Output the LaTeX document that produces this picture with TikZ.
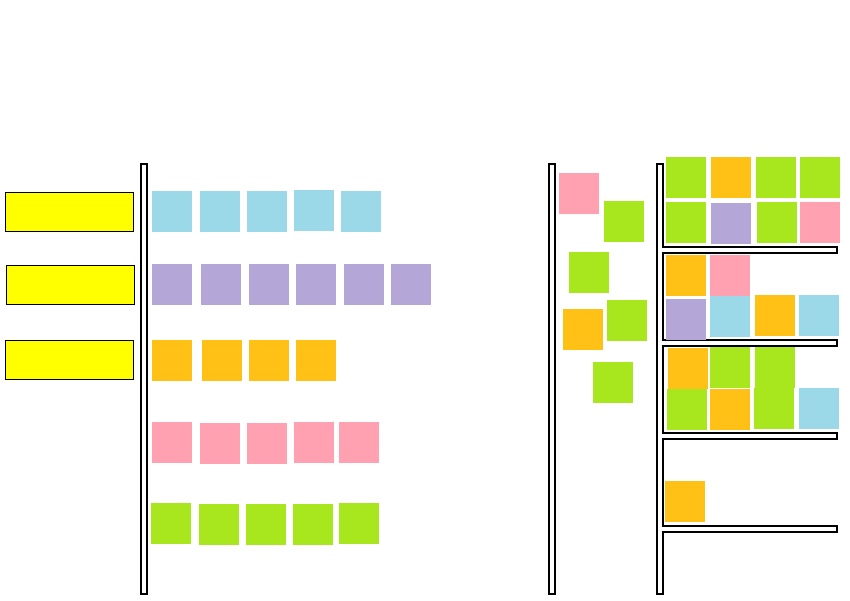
\documentclass[tikz,border=0pt]{standalone}
\definecolor{nblue}{RGB}{155,216,232}
\definecolor{npurple}{RGB}{180,166,214}
\definecolor{norange}{RGB}{255,193,22}
\definecolor{npink}{RGB}{255,161,176}
\definecolor{ngreen}{RGB}{168,230,30}
\definecolor{nyellow}{RGB}{255,255,0}
\tikzset{
  note/.style={inner sep=0pt, outer sep=0pt, minimum width=40pt, minimum height=41pt, fill=#1},
  label box/.style={inner sep=0pt, outer sep=0pt, minimum width=128pt, minimum height=39pt, fill=nyellow, draw=black, line width=1pt},
  bar/.style={fill=white, draw=black, line width=2.6pt}
}
\begin{document}
\begin{tikzpicture}[x=1pt,y=-1pt]
\useasboundingbox (0,0) rectangle (850,600);
\fill[white] (0,0) rectangle (850,600);
% bars
\draw[bar] (141,164) rectangle (147,594);
\draw[bar] (549,164) rectangle (555,594);
\draw[bar] (657,164) -- (663,164) -- (663,247) -- (837,247) -- (837,253) -- (663,253)
  -- (663,340) -- (837,340) -- (837,346) -- (663,346)
  -- (663,433) -- (837,433) -- (837,439) -- (663,439)
  -- (663,526) -- (837,526) -- (837,532) -- (663,532)
  -- (663,594) -- (657,594) -- cycle;
% yellow label boxes
\node[label box] (y1) at (69,211.5) {};
\node[label box] (y2) at (70,284.5) {};
\node[label box] (y3) at (69,359.5) {};
% left rows
\node[note=nblue] (b1) at (172,211.5) {};
\node[note=nblue] (b2) at (220,211.5) {};
\node[note=nblue] (b3) at (267,211.5) {};
\node[note=nblue] (b4) at (314,210.5) {};
\node[note=nblue] (b5) at (361,211.5) {};
\node[note=npurple] (p1) at (172,284.5) {};
\node[note=npurple] (p2) at (221,284.5) {};
\node[note=npurple] (p3) at (269,284.5) {};
\node[note=npurple] (p4) at (316,284.5) {};
\node[note=npurple] (p5) at (364,284.5) {};
\node[note=npurple] (p6) at (411,284.5) {};
\node[note=norange] (o1) at (172,360) {};
\node[note=norange] (o2) at (222,360) {};
\node[note=norange] (o3) at (269,360) {};
\node[note=norange] (o4) at (316,360) {};
\node[note=npink] (k1) at (172,442.5) {};
\node[note=npink] (k2) at (220,443) {};
\node[note=npink] (k3) at (267,443) {};
\node[note=npink] (k4) at (314,442.5) {};
\node[note=npink] (k5) at (359,442.5) {};
\node[note=ngreen] (g1) at (171,523.5) {};
\node[note=ngreen] (g2) at (219,524) {};
\node[note=ngreen] (g3) at (266,524) {};
\node[note=ngreen] (g4) at (313,524) {};
\node[note=ngreen] (g5) at (359,523.5) {};
% middle column
\node[note=npink] (m1) at (579,193) {};
\node[note=ngreen] (m2) at (624,221.5) {};
\node[note=ngreen] (m3) at (589,272.5) {};
\node[note=norange] (m4) at (583,329) {};
\node[note=ngreen] (m5) at (627,320.5) {};
\node[note=ngreen] (m6) at (613,382.5) {};
% right shelf 1
\node[note=ngreen] (r11) at (686,177.5) {};
\node[note=norange] (r12) at (731,177.5) {};
\node[note=ngreen] (r13) at (776,177.5) {};
\node[note=ngreen] (r14) at (820,177.5) {};
\node[note=ngreen] (r15) at (686,222.5) {};
\node[note=npurple] (r16) at (731,223) {};
\node[note=ngreen] (r17) at (777,222.5) {};
\node[note=npink] (r18) at (820,222.5) {};
% right shelf 2
\node[note=norange] (r21) at (686,275.5) {};
\node[note=npink] (r22) at (730,275) {};
\node[note=npurple] (r23) at (686,319.5) {};
\node[note=nblue] (r24) at (730,316.5) {};
\node[note=norange] (r25) at (775,315) {};
\node[note=nblue] (r26) at (819,315.5) {};
% right shelf 3
\node[note=norange] (r31) at (688,368) {};
\node[note=ngreen] (r32) at (730,367) {};
\node[note=ngreen] (r33) at (775,367) {};
\node[note=ngreen] (r34) at (687,409) {};
\node[note=norange] (r35) at (730,409.5) {};
\node[note=ngreen] (r36) at (774,408.5) {};
\node[note=nblue] (r37) at (819,408.5) {};
% right shelf 4
\node[note=norange] (r41) at (684.5,501.5) {};
\end{tikzpicture}
\end{document}
